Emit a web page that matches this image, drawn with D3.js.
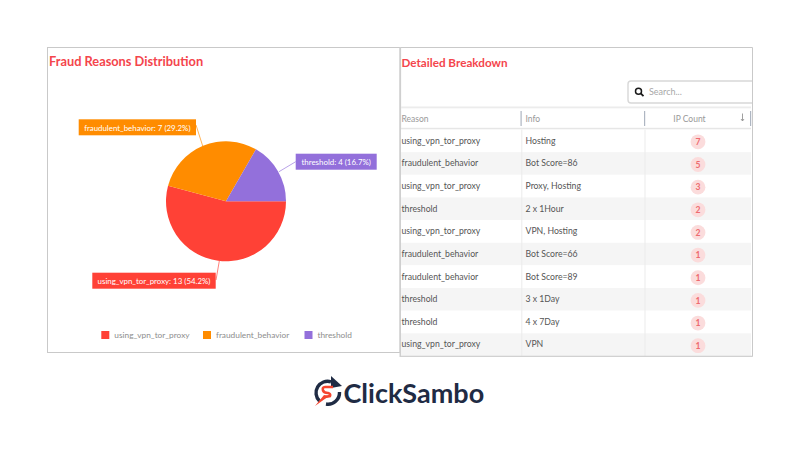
<!DOCTYPE html>
<html><head><meta charset="utf-8">
<script src="https://cdn.jsdelivr.net/npm/d3@7"></script>
<style>html,body{margin:0;padding:0;background:#fff}svg{display:block}text{font-family:Lato,"Open Sans",sans-serif}</style>
</head><body><svg id="c" width="800" height="470"></svg>
<script>
const categories=["using_vpn_tor_proxy","fraudulent_behavior","threshold"];
const seriesValues=[13,7,4];
const seriesPercents=["54.2%","29.2%","16.7%"];
const sliceColors=["#ff4136","#ff8c00","#9370db"];
const rowReasons=["using_vpn_tor_proxy","fraudulent_behavior","using_vpn_tor_proxy","threshold","using_vpn_tor_proxy","fraudulent_behavior","fraudulent_behavior","threshold","threshold","using_vpn_tor_proxy"];
const rowInfos=["Hosting","Bot Score=86","Proxy, Hosting","2 x 1Hour","VPN, Hosting","Bot Score=66","Bot Score=89","3 x 1Day","4 x 7Day","VPN"];
const rowCounts=[7,5,3,2,2,1,1,1,1,1];
const svg=d3.select("#c");
const RED="#f4454c";
// panels
svg.append("rect").attr("x",47.5).attr("y",47.5).attr("width",352.5).attr("height",305).attr("fill","#fff").attr("stroke","#c9c9c9");
svg.append("path").attr("d","M400 47.5H752.5V356.5H400").attr("fill","none").attr("stroke","#c9c9c9");
svg.append("rect").attr("x",399.5).attr("y",47).attr("width",1.6).attr("height",310).attr("fill","#cfcfcf");
svg.append("text").attr("x",49).attr("y",66).attr("font-size",12.8).attr("font-weight",700).attr("fill",RED).text("Fraud Reasons Distribution");
svg.append("text").attr("x",401.5).attr("y",67).attr("font-size",11.7).attr("font-weight",700).attr("fill",RED).text("Detailed Breakdown");
// pie
const pieG=svg.append("g").attr("transform","translate(226,201.3)");
const pie=d3.pie().sort(null).startAngle(Math.PI/2).endAngle(Math.PI*2.5);
const arcs=pie(seriesValues);
const arc=d3.arc().innerRadius(0).outerRadius(60);
const labelBoxes=[[92.3,272.7,123.4,16],[78.7,119.3,117.3,16],[295.7,153.7,81,16]];
const leaderEnds=[[216,280],[196,125],[295.7,161.7]];
const leaderStarts=[[219.3,261],[202.7,146],[279,171.7]];
svg.append("g").selectAll("path").data(categories).join("path")
 .attr("d",(d,i)=>d3.line()([leaderStarts[i],leaderEnds[i]]))
 .attr("stroke",(d,i)=>sliceColors[i]).attr("stroke-opacity",.65).attr("fill","none");
pieG.selectAll("path").data(arcs).join("path").attr("d",arc).attr("fill",(d,i)=>sliceColors[i]);
const lab=svg.append("g").selectAll("g").data(categories).join("g");
lab.append("rect").attr("x",(d,i)=>labelBoxes[i][0]).attr("y",(d,i)=>labelBoxes[i][1]).attr("width",(d,i)=>labelBoxes[i][2]).attr("height",(d,i)=>labelBoxes[i][3]).attr("fill",(d,i)=>sliceColors[i]);
lab.append("text").attr("x",(d,i)=>labelBoxes[i][0]+labelBoxes[i][2]/2).attr("y",(d,i)=>labelBoxes[i][1]+11.2).attr("text-anchor","middle").attr("font-size",7.9).attr("fill","#fff")
 .text((d,i)=>`${d}: ${seriesValues[i]} (${seriesPercents[i]})`);
// legend
const lx=[101.3,203,304.5];
const lg=svg.append("g").selectAll("g").data(categories).join("g").attr("transform",(d,i)=>`translate(${lx[i]},331)`);
lg.append("rect").attr("width",8).attr("height",8).attr("fill",(d,i)=>sliceColors[i]);
lg.append("text").attr("x",13).attr("y",7).attr("font-size",8.3).attr("fill","#8d8d8d").text(d=>d);
// search
svg.append("path").attr("d","M752 81H631a3 3 0 0 0-3 3v16a3 3 0 0 0 3 3H752").attr("fill","#fff").attr("stroke","#d8d8d8").attr("stroke-width",1.4);
const ic=svg.append("g").attr("transform","translate(638.5,91.2)").attr("fill","none").attr("stroke","#1a1a1a");
ic.append("circle").attr("r",3).attr("stroke-width",1.5);
ic.append("path").attr("d","M2.2 2.2L5 5").attr("stroke-width",1.8);
svg.append("text").attr("x",649).attr("y",94.5).attr("font-size",9).attr("fill","#a8a8a8").text("Search...");
// table
const y=d3.scaleBand().domain(d3.range(rowCounts.length)).range([129.5,356]);
svg.append("rect").attr("x",401).attr("y",106.5).attr("width",350).attr("height",1.8).attr("fill","#ececec");
svg.append("rect").attr("x",401).attr("y",127.8).attr("width",350).attr("height",1.8).attr("fill","#e6e6e6");
svg.append("g").selectAll("rect").data(rowCounts).join("rect").attr("x",401).attr("width",350).attr("y",(d,i)=>y(i)).attr("height",y.bandwidth()).attr("fill",(d,i)=>i%2?"#f5f5f5":"#fff");
[521.3,644.5].forEach(x=>svg.append("rect").attr("x",x).attr("y",129.5).attr("width",1).attr("height",226.5).attr("fill","#ececec"));
[[520.5,111,126],[644,111,126],[750,111,126]].forEach(s=>svg.append("rect").attr("x",s[0]).attr("y",s[1]).attr("width",1.2).attr("height",s[2]-s[1]).attr("fill","#aeb6c2"));
svg.append("rect").attr("x",401).attr("y",355.7).attr("width",351).attr("height",1).attr("fill","#d5d5d5");
const th=[["Reason",401.5,"start"],["Info",525.5,"start"],["IP Count",689.5,"middle"]];
svg.append("g").selectAll("text").data(th).join("text").attr("x",d=>d[1]).attr("y",121.5).attr("text-anchor",d=>d[2]).attr("font-size",8.5).attr("fill","#999").text(d=>d[0]);
svg.append("path").attr("d","M742.5 113.5v7M741 119l1.5 2 1.5-2").attr("fill","none").attr("stroke","#888").attr("stroke-width",.8);
const txt=(arr,x)=>svg.append("g").selectAll("text").data(arr).join("text").attr("x",x).attr("y",(d,i)=>y(i)+y.bandwidth()/2+2.8).attr("font-size",8.7).attr("fill","#555").text(d=>d);
txt(rowReasons,401.5);txt(rowInfos,525.5);
svg.append("g").selectAll("circle").data(rowCounts).join("circle").attr("cx",698).attr("cy",(d,i)=>y(i)+y.bandwidth()/2+1).attr("r",7.4).attr("fill","#fbdcdc");
svg.append("g").selectAll("text").data(rowCounts).join("text").attr("x",698).attr("y",(d,i)=>y(i)+y.bandwidth()/2+4.2).attr("text-anchor","middle").attr("font-size",8.6).attr("font-weight",700).attr("fill","#ee6a6f").text(d=>d);
// logo
svg.append("text").attr("x",343.5).attr("y",403).attr("font-size",27).attr("font-weight",700).attr("fill","#1f2b44").text("ClickSambo");
const lo=svg.append("g").attr("transform","translate(328,393)");
lo.append("path").attr("d","M-8.5 8A11.5 11.5 0 0 1 3 -11.2").attr("fill","none").attr("stroke","#1f2b44").attr("stroke-width",3.4);
lo.append("path").attr("d","M11.5 -1A11.5 11.5 0 0 1 -2 11").attr("fill","none").attr("stroke","#1f2b44").attr("stroke-width",3.4);
lo.append("path").attr("d","M3 -17L14 -7L3 -5Z").attr("fill","#1f2b44");
lo.append("path").attr("d","M5 -6H-3Q-6 -6 -5 -2.5Q-4 0 0 0Q3 1 2 3L-3 4").attr("fill","none").attr("stroke","#f4452f").attr("stroke-width",2.6);
lo.append("path").attr("d","M1 3L-13 13L-4 2Z").attr("fill","#f4452f");
</script></body></html>
